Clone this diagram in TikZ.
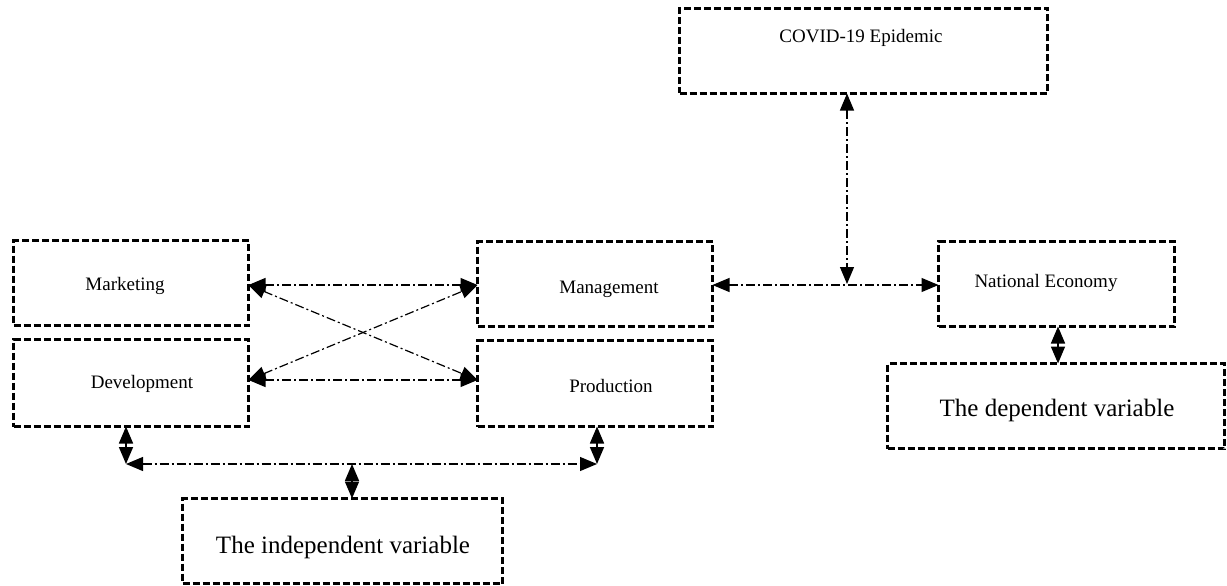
\documentclass[tikz,border=0pt]{standalone}
\usepackage{fontspec}
\setmainfont{Liberation Serif}
\usetikzlibrary{arrows.meta}
\tikzset{
  box/.style={draw=black, line width=2.8pt, dash pattern=on 7pt off 3pt, anchor=north west, inner sep=0pt, outer sep=0pt},
  small/.style={anchor=base, inner sep=0pt, font=\fontsize{19}{22}\selectfont},
  big/.style={anchor=base, inner sep=0pt, font=\fontsize{25}{30}\selectfont},
  tip/.tip={Triangle[length=17pt,width=14pt]},
  conn/.style={draw=black, line width=1.2pt, dash pattern=on 9pt off 3pt on 2pt off 3pt, tip-tip},
  solid2/.style={draw=black, line width=1.6pt, tip-tip}
}
\begin{document}
\begin{tikzpicture}[x=1pt,y=-1pt]
\useasboundingbox (0,0) rectangle (1227,586);
% boxes
\node[box, minimum width=235pt, minimum height=85pt] (mkt) at (13.5,240.5) {};
\node[box, minimum width=235pt, minimum height=87pt] (dev) at (13.5,339.5) {};
\node[box, minimum width=235pt, minimum height=85pt] (mgt) at (477.5,241.5) {};
\node[box, minimum width=235pt, minimum height=86pt] (prd) at (477.5,340.5) {};
\node[box, minimum width=368pt, minimum height=85pt] (cov) at (679.5,8.5) {};
\node[box, minimum width=236pt, minimum height=85pt] (ne) at (938.5,241.5) {};
\node[box, minimum width=337pt, minimum height=85pt] (dep) at (887.5,363.5) {};
\node[box, minimum width=320pt, minimum height=85pt] (ind) at (182.5,498.5) {};
% texts
\node[small] (tmkt) at (125,290) {Marketing};
\node[small] (tdev) at (142,388) {Development};
\node[small] (tmgt) at (609,293) {Management};
\node[small] (tprd) at (611,392) {Production};
\node[small] (tcov) at (861,43) {COVID-19 Epidemic};
\node[small] (tne) at (1046,287) {National Economy};
\node[big] (tdep) at (1057,416) {The dependent variable};
\node[big] (tind) at (343,553) {The independent variable};
% connector points
\coordinate (mL) at (mkt.east |- 0,285);
\coordinate (dL) at (dev.east |- 0,380);
\coordinate (gL) at (mgt.west |- 0,285);
\coordinate (pL) at (prd.west |- 0,380);
\coordinate (gR) at (mgt.east |- 0,285);
\coordinate (nL) at (ne.west |- 0,285);
\coordinate (cm) at (847,284);
\coordinate (bl) at (126,464);
\coordinate (br) at (597,464);
\coordinate (bm) at (352,464);
% connectors
\draw[conn] (mL) -- (gL);
\draw[conn] (dL) -- (pL);
\draw[conn] (mL) -- (pL);
\draw[conn] (dL) -- (gL);
\draw[conn] (gR) -- (nL);
\draw[conn] (cov.south -| cm) -- (cm);
\draw[solid2] (ne.south -| 1058,0) -- (dep.north -| 1058,0);
\draw[solid2] (dev.south -| bl) -- (bl);
\draw[solid2] (prd.south -| br) -- (br);
\draw[conn] (bl) -- (br);
\draw[solid2] (ind.north -| bm) -- (bm);
\end{tikzpicture}
\end{document}
